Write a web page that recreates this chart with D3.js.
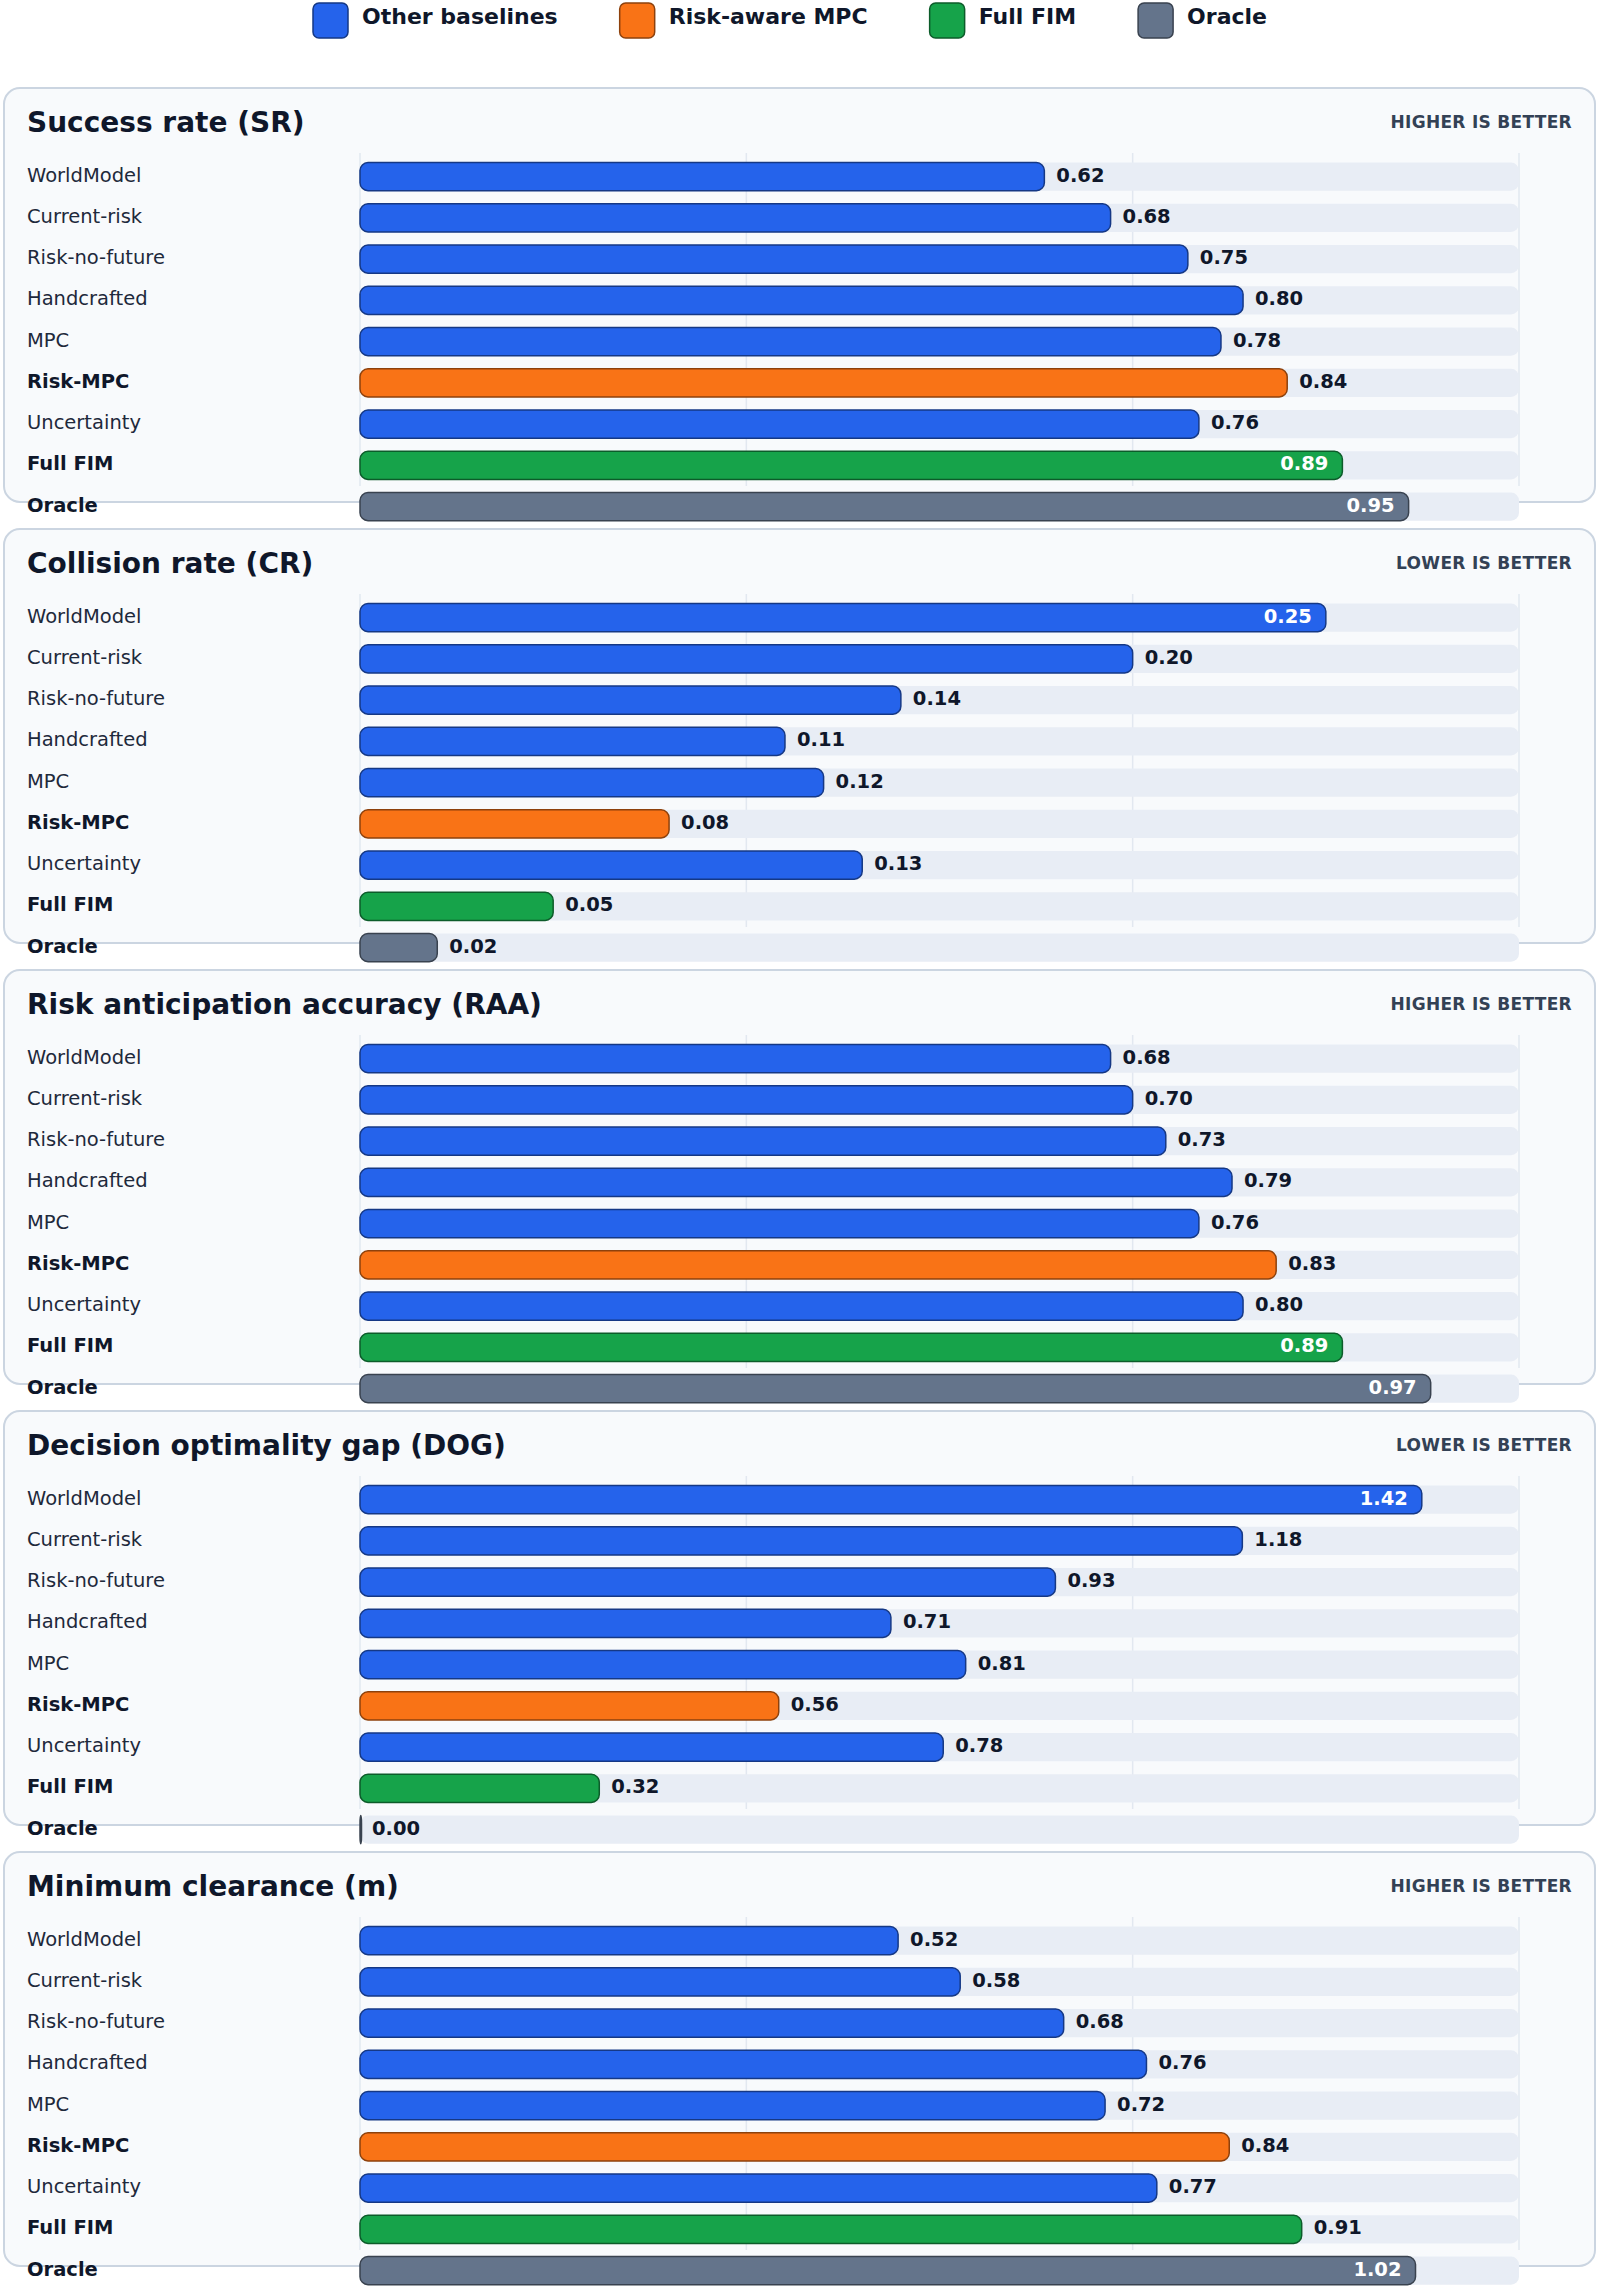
<!DOCTYPE html>
<html>
<head>
<meta charset="utf-8">
<script src="https://cdn.jsdelivr.net/npm/d3@7"></script>
<style>
  body { margin: 0; background: #ffffff; }
  svg { display: block; font-family: "DejaVu Sans", sans-serif; }
</style>
</head>
<body>
<script>
// methods shown in every panel, top to bottom
var methods = ["WorldModel", "Current-risk", "Risk-no-future", "Handcrafted", "MPC",
               "Risk-MPC", "Uncertainty", "Full FIM", "Oracle"];
var groups = ["base", "base", "base", "base", "base", "risk", "base", "fim", "oracle"];

// values per metric
var successRate   = [0.62, 0.68, 0.75, 0.80, 0.78, 0.84, 0.76, 0.89, 0.95];
var collisionRate = [0.25, 0.20, 0.14, 0.11, 0.12, 0.08, 0.13, 0.05, 0.02];
var anticipation  = [0.68, 0.70, 0.73, 0.79, 0.76, 0.83, 0.80, 0.89, 0.97];
var optimalityGap = [1.42, 1.18, 0.93, 0.71, 0.81, 0.56, 0.78, 0.32, 0.00];
var clearance     = [0.52, 0.58, 0.68, 0.76, 0.72, 0.84, 0.77, 0.91, 1.02];

var panelTitles = ["Success rate (SR)", "Collision rate (CR)", "Risk anticipation accuracy (RAA)",
                   "Decision optimality gap (DOG)", "Minimum clearance (m)"];
var panelHints = ["HIGHER IS BETTER", "LOWER IS BETTER", "HIGHER IS BETTER",
                  "LOWER IS BETTER", "HIGHER IS BETTER"];
var panelValues = [successRate, collisionRate, anticipation, optimalityGap, clearance];
var domainMax = [1.05, 0.30, 1.05, 1.55, 1.12];

var legendKeys = ["base", "risk", "fim", "oracle"];
var legendNames = ["Other baselines", "Risk-aware MPC", "Full FIM", "Oracle"];

var width = 1600;
var height = 2290;

var color = d3.scaleOrdinal()
  .domain(legendKeys)
  .range(["#2563eb", "#f97316", "#16a34a", "#64748b"]);

var strokeFor = function(g) { return d3.color(color(g)).darker(1.6).toString(); };

var svg = d3.select('body').append('svg')
  .attr('width', width)
  .attr('height', height);

// ---- legend ----
var legend = svg.append('g');
var items = legend.selectAll('g').data(legendKeys).enter().append('g');
items.append('rect')
  .attr('y', 3).attr('width', 35).attr('height', 35)
  .attr('rx', 6)
  .attr('fill', function(d) { return color(d); })
  .attr('stroke', strokeFor)
  .attr('stroke-width', 1.5);
items.append('text')
  .attr('x', 49).attr('y', 16)
  .attr('dominant-baseline', 'central')
  .attr('font-size', 22).attr('font-weight', 'bold')
  .attr('fill', '#0f172a')
  .text(function(d, i) { return legendNames[i]; });

var cursor = 0;
items.each(function() {
  var w = this.getBBox().width;
  d3.select(this).attr('transform', 'translate(' + cursor + ',0)');
  cursor += w + 62;
});
var legendWidth = cursor - 62;
legend.attr('transform', 'translate(' + (790 - legendWidth / 2) + ',0)');

// ---- panels ----
var panelLeft = 4, panelRight = 1595;
var firstTop = 88, panelPitch = 441;
var plotOffset = 68, step = 41.25;
var x0 = 360, x1 = 1519;

panelTitles.forEach(function(title, p) {
  var top = firstTop + p * panelPitch;
  var values = panelValues[p];
  var plotTop = top + plotOffset;

  var x = d3.scaleLinear().domain([0, domainMax[p]]).range([x0, x1]);
  var y = d3.scaleBand()
    .domain(methods)
    .range([plotTop, plotTop + methods.length * step])
    .paddingInner(0.32)
    .paddingOuter(0.16);

  // the box only covers n-1 rows, the last row hangs over its edge
  var innerBottom = plotTop + (methods.length - 1) * step;

  var g = svg.append('g');

  g.append('rect')
    .attr('x', panelLeft).attr('y', top)
    .attr('width', panelRight - panelLeft)
    .attr('height', innerBottom + 16 - top)
    .attr('rx', 16)
    .attr('fill', '#f8fafc')
    .attr('stroke', '#cbd5e1')
    .attr('stroke-width', 2);

  g.append('text')
    .attr('x', 27).attr('y', top + 44)
    .attr('font-size', 28).attr('font-weight', 'bold')
    .attr('fill', '#0f172a')
    .text(title);

  g.append('text')
    .attr('x', panelRight - 23).attr('y', top + 40)
    .attr('text-anchor', 'end')
    .attr('font-size', 17).attr('font-weight', 'bold')
    .attr('letter-spacing', 0.3)
    .attr('fill', '#334155')
    .text(panelHints[p]);

  // grid
  var gridTicks = [0, 1, 2, 3].map(function(k) { return domainMax[p] * k / 3; });
  g.selectAll('line.grid').data(gridTicks).enter().append('line')
    .attr('class', 'grid')
    .attr('x1', function(d) { return x(d); })
    .attr('x2', function(d) { return x(d); })
    .attr('y1', plotTop - 3)
    .attr('y2', innerBottom)
    .attr('stroke', '#e2e8f0')
    .attr('stroke-width', 1.5);

  var rows = methods.map(function(m, i) {
    return { name: m, group: groups[i], value: values[i] };
  });

  // tracks
  g.selectAll('rect.track').data(rows).enter().append('rect')
    .attr('class', 'track')
    .attr('x', x(0))
    .attr('y', function(d) { return y(d.name); })
    .attr('width', x1 - x0)
    .attr('height', y.bandwidth())
    .attr('rx', 8)
    .attr('fill', '#e8edf5');

  // bars
  g.selectAll('rect.bar').data(rows).enter().append('rect')
    .attr('class', 'bar')
    .attr('x', x(0))
    .attr('y', function(d) { return y(d.name); })
    .attr('width', function(d) { return Math.max(x(d.value) - x(0), 1.5); })
    .attr('height', y.bandwidth())
    .attr('rx', 8)
    .attr('fill', function(d) { return color(d.group); })
    .attr('stroke', function(d) { return strokeFor(d.group); })
    .attr('stroke-width', 1.5);

  // method names
  g.selectAll('text.name').data(rows).enter().append('text')
    .attr('class', 'name')
    .attr('x', 27)
    .attr('y', function(d) { return y(d.name) + y.bandwidth() / 2 - 1.5; })
    .attr('dominant-baseline', 'central')
    .attr('font-size', 19.5)
    .attr('font-weight', function(d) { return d.group === 'base' ? 'normal' : 'bold'; })
    .attr('fill', function(d) { return d.group === 'base' ? '#1e293b' : '#0f172a'; })
    .text(function(d) { return d.name; });

  // value labels, inside the bar when it is long
  var inside = function(d) { return d.value / domainMax[p] > 0.82; };
  g.selectAll('text.val').data(rows).enter().append('text')
    .attr('class', 'val')
    .attr('x', function(d) { return inside(d) ? x(d.value) - 14 : x(d.value) + 12; })
    .attr('y', function(d) { return y(d.name) + y.bandwidth() / 2 - 1.5; })
    .attr('dominant-baseline', 'central')
    .attr('text-anchor', function(d) { return inside(d) ? 'end' : 'start'; })
    .attr('font-size', 19.5).attr('font-weight', 'bold')
    .attr('fill', function(d) { return inside(d) ? '#ffffff' : '#0f172a'; })
    .text(function(d) { return d.value.toFixed(2); });
});
</script>
</body>
</html>
